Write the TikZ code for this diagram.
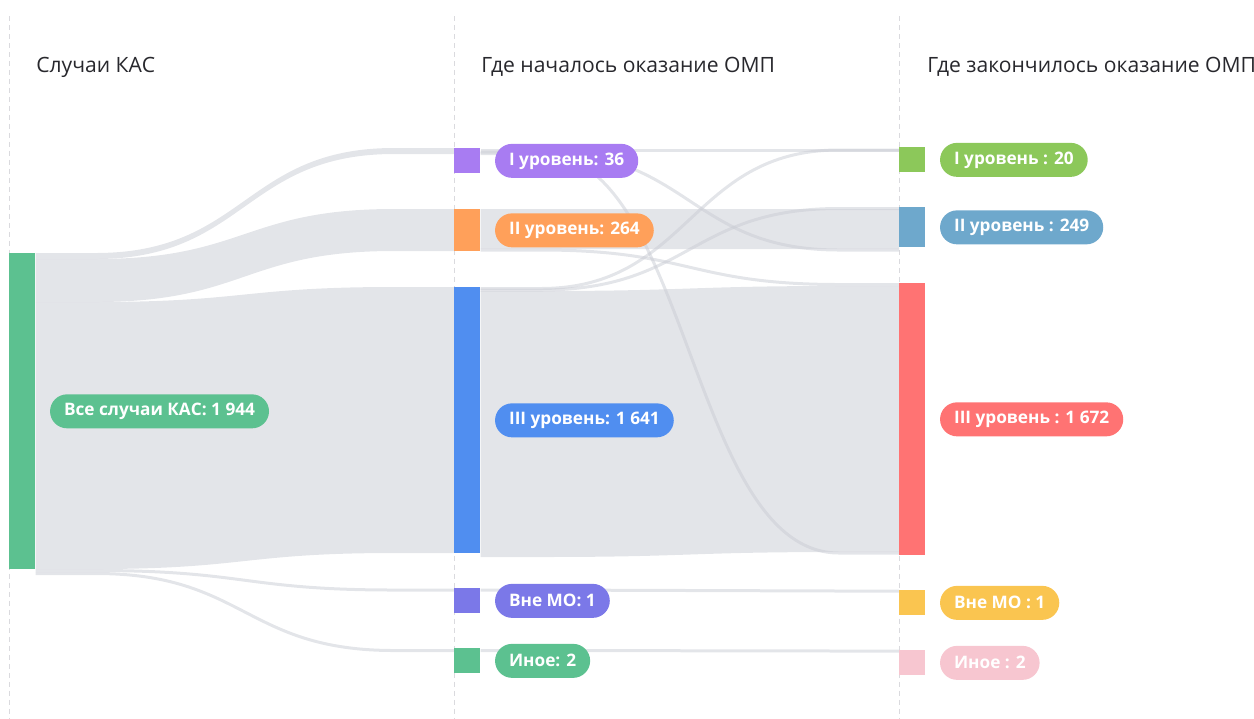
\documentclass[tikz,border=0pt]{standalone}
\usepackage{fontspec}
\setmainfont{Open Sans}
\usetikzlibrary{positioning,calc}

\definecolor{flowgray}{RGB}{200,203,211}
\definecolor{guidegray}{RGB}{218,218,222}
\definecolor{headtext}{RGB}{40,40,45}
\definecolor{ckas}{RGB}{92,193,144}
\definecolor{cfirst}{RGB}{168,124,242}
\definecolor{csecond}{RGB}{255,160,90}
\definecolor{cthird}{RGB}{80,142,240}
\definecolor{cvne}{RGB}{123,120,232}
\definecolor{efirst}{RGB}{140,200,90}
\definecolor{esecond}{RGB}{110,168,204}
\definecolor{ethird}{RGB}{255,115,115}
\definecolor{evne}{RGB}{250,197,80}
\definecolor{eother}{RGB}{247,198,208}

\pgfdeclarelayer{background}
\pgfsetlayers{background,main}

% a wide flow: source, top, bottom, target, top, bottom (px below the bar tops)
\newcommand\band[6]{%
  \coordinate (s) at (#1.north east); \coordinate (t) at (#4.north west);
  \coordinate (m) at ($(s)!.5!(t)$);
  \fill[flow] ($(s)+(0,#2)$) -- ($(s)+(60,#2)$)
    .. controls ($(m|-s)+(0,#2)$) and ($(m|-t)+(0,#5)$) .. ($(t)+(-60,#5)$) -- ($(t)+(0,#5)$)
    -- ($(t)+(0,#6)$) -- ($(t)+(-60,#6)$)
    .. controls ($(m|-t)+(0,#6)$) and ($(m|-s)+(0,#3)$) .. ($(s)+(60,#3)$) -- ($(s)+(0,#3)$) -- cycle;}
% a thin flow: source, offset, target, offset
\newcommand\strand[4]{%
  \coordinate (s) at (#1.north east); \coordinate (t) at (#3.north west);
  \coordinate (m) at ($(s)!.5!(t)$);
  \draw[flowline] ($(s)+(0,#2)$) -- ($(s)+(60,#2)$)
    .. controls ($(m|-s)+(0,#2)$) and ($(m|-t)+(0,#4)$) .. ($(t)+(-60,#4)$) -- ($(t)+(0,#4)$);}

\begin{document}
\begin{tikzpicture}[x=0.02cm, y=-0.02cm,
  bar/.style={anchor=north west, inner sep=0pt, minimum width=0.52cm, minimum height=0.5cm},
  pill/.style={rounded corners=0.34cm, minimum height=0.68cm, inner xsep=0.28cm, inner ysep=0pt,
    text=white, font=\bfseries\fontsize{9.8}{11}\selectfont},
  head/.style={anchor=west, inner sep=0pt, text=headtext, font=\fontsize{12}{14}\selectfont},
  flow/.style={fill=flowgray, fill opacity=.5},
  flowline/.style={draw=flowgray, draw opacity=.5, line width=0.06cm},
  guide/.style={draw=guidegray, line width=0.4pt, dash pattern=on 0.1cm off 0.08cm}]
\useasboundingbox (0,0) rectangle (1254,718);

% column headings
\node[head] (hkas) at (36,67) {Случаи КАС};
\node[head] (hstart) at (481,67) {Где началось оказание ОМП};
\node[head] (hend) at (927,67) {Где закончилось оказание ОМП};

% bars
\node[bar, fill=ckas, minimum height=6.32cm] (kas) at (9,253) {};
\node[bar, fill=cfirst] (sfirst) at (454,148) {};
\node[bar, fill=csecond, minimum height=0.84cm] (ssecond) at (454,209) {};
\node[bar, fill=cthird, minimum height=5.32cm] (sthird) at (454,287) {};
\node[bar, fill=cvne] (svne) at (454,588) {};
\node[bar, fill=ckas] (sother) at (454,648) {};
\node[bar, fill=efirst] (tfirst) at (899,147) {};
\node[bar, fill=esecond, minimum height=0.8cm] (tsecond) at (899,207) {};
\node[bar, fill=ethird, minimum height=5.44cm] (tthird) at (899,283) {};
\node[bar, fill=evne] (tvne) at (899,590) {};
\node[bar, fill=eother] (tother) at (899,650) {};

% labels
\node[pill, fill=ckas, right=0.28cm of kas] (lkas) {Все случаи КАС: 1 944};
\node[pill, fill=cfirst, right=0.28cm of sfirst] (lsfirst) {I уровень: 36};
\node[pill, fill=csecond, right=0.28cm of ssecond] (lssecond) {II уровень: 264};
\node[pill, fill=cthird, right=0.28cm of sthird] (lsthird) {III уровень: 1 641};
\node[pill, fill=cvne, right=0.28cm of svne] (lsvne) {Вне МО: 1};
\node[pill, fill=ckas, right=0.28cm of sother] (lsother) {Иное: 2};
\node[pill, fill=efirst, right=0.28cm of tfirst] (ltfirst) {I уровень : 20};
\node[pill, fill=esecond, right=0.28cm of tsecond] (ltsecond) {II уровень : 249};
\node[pill, fill=ethird, right=0.28cm of tthird] (ltthird) {III уровень : 1 672};
\node[pill, fill=evne, right=0.28cm of tvne] (ltvne) {Вне МО : 1};
\node[pill, fill=eother, right=0.28cm of tother] (ltother) {Иное : 2};

\begin{pgfonlayer}{background}
\foreach \gx in {9,454,899}
  \draw[guide] (\gx,16) -- (\gx,718);
% from all cases to where care started
\band{kas}{0}{6}{sfirst}{0}{6}
\band{kas}{6}{49}{ssecond}{0}{42}
\band{kas}{49}{316}{sthird}{0}{266}
\strand{kas}{317.5}{svne}{2}
\strand{kas}{320.5}{sother}{2.5}
% from where care started to where it ended
\band{ssecond}{0}{40}{tsecond}{2}{42}
\band{sthird}{4}{270}{tthird}{3}{269}
\strand{sfirst}{2}{tfirst}{3}
\strand{sfirst}{4}{tsecond}{43}
\strand{sfirst}{5.5}{tthird}{270}
\strand{ssecond}{41}{tthird}{1.5}
\strand{sthird}{1.5}{tfirst}{3}
\strand{sthird}{3}{tsecond}{1.5}
\strand{svne}{2}{tvne}{1}
\strand{sother}{2.5}{tother}{1}
\end{pgfonlayer}
\end{tikzpicture}
\end{document}
